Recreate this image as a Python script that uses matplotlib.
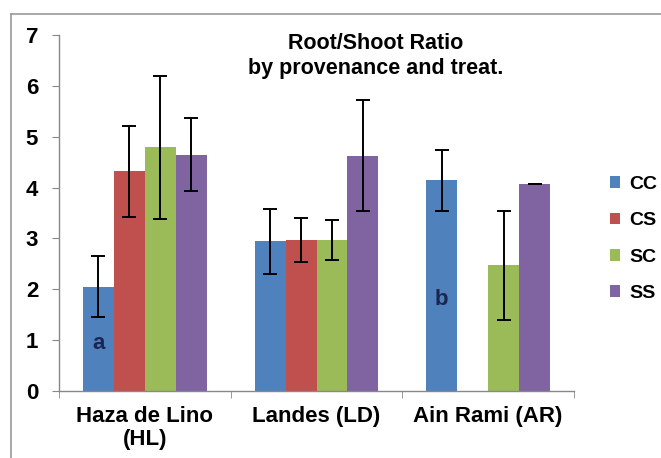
import numpy as np
import matplotlib
matplotlib.use("Agg")
import matplotlib.pyplot as plt
from matplotlib.lines import Line2D

plt.rcParams['font.family'] = ['Liberation Sans', 'DejaVu Sans']
plt.rcParams['font.weight'] = 'bold'

# provenances and treatments
provenances = ["Haza de Lino\n(HL)", "Landes (LD)", "Ain Rami (AR)"]
treatments = ["CC", "CS", "SC", "SS"]
colors = ["#4F81BD", "#C0504D", "#9BBB59", "#8064A2"]

# root/shoot ratio means (one list per treatment, ordered HL, LD, AR)
ccVals = [2.05, 2.94, 4.14]
csVals = [4.32, 2.97, np.nan]
scVals = [4.79, 2.97, 2.47]
ssVals = [4.65, 4.63, 4.08]

# error bar half-lengths
ccErr = [0.60, 0.64, 0.60]
csErr = [0.90, 0.44, np.nan]
scErr = [1.41, 0.40, 1.07]
ssErr = [0.72, 1.09, 0.0]

# letters drawn inside bars
letters = ["a", "b"]
letterGroup = [0, 2]
letterY = [0.93, 1.80]


def main():
    fig = plt.figure(figsize=(6.61, 4.58), dpi=100)
    ax = fig.add_axes([59/661, 1 - 391/458, (574-59)/661, (391-35)/458])

    allVals = [ccVals, csVals, scVals, ssVals]
    allErr = [ccErr, csErr, scErr, ssErr]
    width = 0.18
    x = np.arange(len(provenances)) + 0.5

    for i in range(len(treatments)):
        pos = x + (i - 1.5) * width
        ax.bar(pos, allVals[i], width, color=colors[i], label=treatments[i], zorder=2)
        ax.errorbar(pos, allVals[i], yerr=allErr[i], fmt='none', ecolor='black',
                    elinewidth=1.4, capsize=5, capthick=1.4, zorder=3)

    # letters on the CC bars
    for lab, g, yv in zip(letters, letterGroup, letterY):
        ax.text(x[g] - 1.5 * width, yv, lab, ha='center', va='center',
                fontsize=16, fontweight='bold', color='#1B2550', zorder=4)

    ax.set_xlim(0, 3)
    ax.set_ylim(0, 7)
    ax.set_yticks(range(8))
    ax.set_xticks(x)
    ax.set_xticklabels(provenances, fontsize=16, fontweight='bold', linespacing=1.1)
    ax.set_xticks([0, 1, 2, 3], minor=True)
    ax.tick_params(axis='x', which='major', length=0, pad=11)
    ax.tick_params(axis='x', which='minor', length=5, color='#888888', direction='out')
    ax.tick_params(axis='y', length=5, color='#888888', direction='out', pad=10, labelsize=16)
    for t in ax.get_yticklabels():
        t.set_fontweight('bold')

    for s in ['top', 'right']:
        ax.spines[s].set_visible(False)
    for s in ['left', 'bottom']:
        ax.spines[s].set_color('#888888')
        ax.spines[s].set_linewidth(1.0)

    fig.text(376/661, 1 - 56/458, "Root/Shoot Ratio\nby provenance and treat.",
             ha='center', va='center', fontsize=15.5, fontweight='bold', linespacing=1.25)

    ax.legend(loc='center left', bbox_to_anchor=(602/661, 1 - 239/458),
              bbox_transform=fig.transFigure, frameon=False, fontsize=14,
              handlelength=0.55, handleheight=0.55, handletextpad=0.45,
              labelspacing=1.0, borderaxespad=0)

    # grey chart frame (left and top edges)
    fig.add_artist(Line2D([11/661, 11/661], [0, 1 - 14/458], color='#999999', lw=1.2))
    fig.add_artist(Line2D([11/661, 1], [1 - 14/458, 1 - 14/458], color='#999999', lw=1.2))

    fig.savefig("out.png", dpi=100)
    return "done"


print(main())
